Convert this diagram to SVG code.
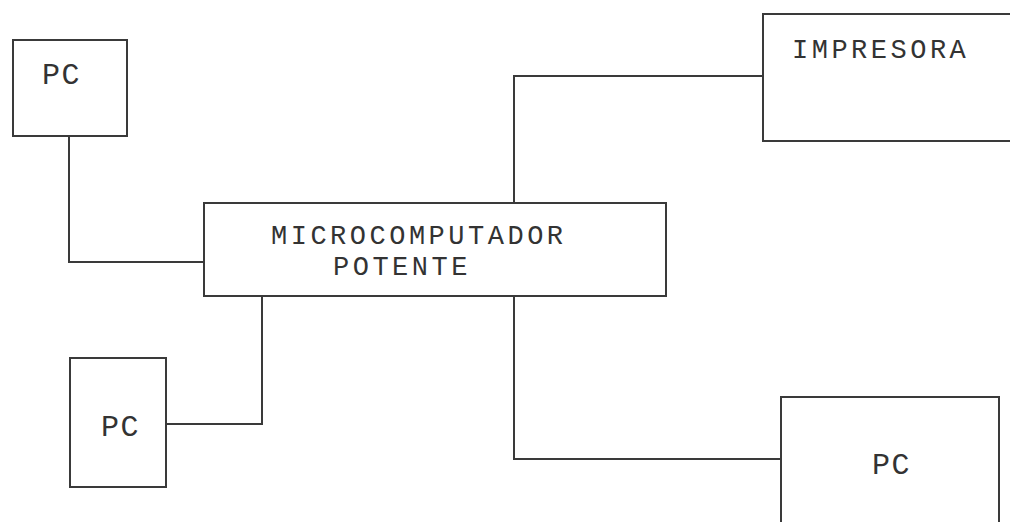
<svg xmlns="http://www.w3.org/2000/svg" width="1010" height="522" viewBox="0 0 1010 522">
<style>
.box{fill:none;stroke:#3a3a3a;stroke-width:2}
.ln{fill:none;stroke:#3a3a3a;stroke-width:2}
.t{font-family:"Liberation Mono","DejaVu Sans Mono",monospace;font-size:27px;fill:#333;letter-spacing:3.5px}
.pc{font-family:"Liberation Mono","DejaVu Sans Mono",monospace;font-size:30px;fill:#333;letter-spacing:1.5px}
</style>
<rect width="1010" height="522" fill="#fff"/>
<g id="connectors">
<polyline class="ln" points="69,136 69,262 204,262"/>
<polyline class="ln" points="514,203 514,76 763,76"/>
<polyline class="ln" points="166,424 262,424 262,296"/>
<polyline class="ln" points="514,296 514,459 781,459"/>
</g>
<g id="pc1">
<rect class="box" x="13" y="40" width="114" height="96"/>
<text class="pc" x="42" y="84">PC</text>
</g>
<g id="micro">
<rect class="box" x="204" y="203" width="462" height="93"/>
<text class="t" x="271" y="244">MICROCOMPUTADOR</text>
<text class="t" x="333" y="275">POTENTE</text>
</g>
<g id="impresora">
<rect class="box" x="763" y="14" width="260" height="127"/>
<text class="t" x="792" y="58">IMPRESORA</text>
</g>
<g id="pc2">
<rect class="box" x="70" y="358" width="96" height="129"/>
<text class="pc" x="101" y="436">PC</text>
</g>
<g id="pc3">
<rect class="box" x="781" y="397" width="218" height="140"/>
<text class="pc" x="872" y="474">PC</text>
</g>
</svg>
